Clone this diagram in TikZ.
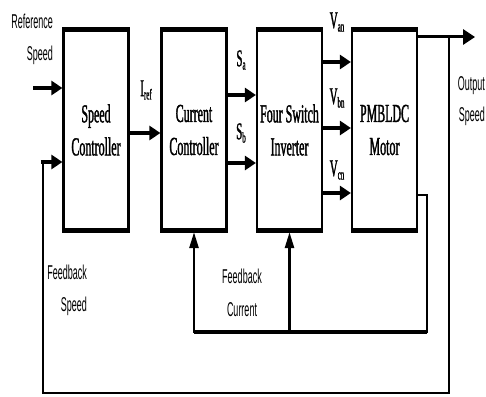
\documentclass[tikz,border=0pt]{standalone}
\usepackage{fontspec}
\setmainfont{Liberation Serif}
\newfontfamily\blkfont[FakeStretch=0.46,FakeBold=1.2]{Liberation Serif}
\newfontfamily\lblfont[FakeStretch=0.45]{Liberation Sans}
\usepackage{tikz}
\usetikzlibrary{arrows.meta, positioning, calc}
\newcommand\lowsub[1]{\raisebox{-0.3ex}{\fontsize{15}{15}\selectfont #1}}
\tikzset{
  blk/.style={draw, line width=2.2pt, minimum width=65pt, minimum height=202pt,
              align=center, inner sep=2pt, font=\blkfont\fontsize{26}{33}\selectfont},
  blkedge/.style={line width=5pt},
  bigarr/.style={line width=4.5pt, -{Triangle[length=11pt,width=14pt]}},
  outarr/.style={line width=3pt, -{Triangle[length=12pt,width=15pt]}},
  fbline/.style={line width=2.6pt},
  fbarr/.style={line width=2.6pt, -{Triangle[length=16pt,width=9pt]}},
  sig/.style={font=\blkfont\fontsize{24}{26}\selectfont, inner sep=1pt},
  capt/.style={font=\lblfont\fontsize{20}{22}\selectfont, inner sep=1pt},
}
\begin{document}
\begin{tikzpicture}[x=1pt, y=-1pt]
\useasboundingbox (0,0) rectangle (486,396);
% blocks
\node[blk] (spd) at (96,130) {Speed\\Controller};
\node[blk] (cur) at (194,130) {Current\\Controller};
\node[blk] (inv) at (289.5,130) {Four Switch\\Inverter};
\node[blk] (mot) at (384.5,130) {PMBLDC\\Motor};
\foreach \b in {spd,cur,inv,mot} {
  \draw[blkedge] ([yshift=-1.5pt]\b.north west) -- ([yshift=-1.5pt]\b.north east);
  \draw[blkedge] ([yshift=1.5pt]\b.south west) -- ([yshift=1.5pt]\b.south east);
}
% free ends
\coordinate (refin) at (33,88);
\coordinate (outend) at (475,37);
\coordinate (outtap) at (449,37);
\coordinate (fscorner) at (43,393);
\coordinate (fccorner) at (427,332);
% forward path
\draw[bigarr] (refin) -- (refin -| spd.west);
\draw[bigarr] ([yshift=-3pt]spd.east) -- ([yshift=-3pt]cur.west);
\draw[bigarr] ([yshift=35pt]cur.east) -- ([yshift=35pt]inv.west);
\draw[bigarr] ([yshift=-33pt]cur.east) -- ([yshift=-33pt]inv.west);
\draw[bigarr] ([yshift=68pt]inv.east) -- ([yshift=68pt]mot.west);
\draw[bigarr] ([yshift=2pt]inv.east) -- ([yshift=2pt]mot.west);
\draw[bigarr] ([yshift=-63pt]inv.east) -- ([yshift=-63pt]mot.west);
\draw[outarr] (outend -| mot.east) -- (outend);
% speed feedback
\draw[fbline] (outtap) |- (fscorner) -- (fscorner |- {$(spd.west)+(0,32)$});
\draw[bigarr] ($(spd.west)+(-21.5,32)$) -- ($(spd.west)+(0,32)$);
% current feedback
\draw[fbarr] ([yshift=-65pt]mot.east) -| (fccorner) -| (cur.south);
\draw[fbarr] (inv.south |- fccorner) -- (inv.south);
\draw[line width=4pt] (fccorner) -- (fccorner -| cur.south);
% labels
\node[capt, anchor=east] (lref) at (54,21) {Reference};
\node[capt, anchor=east] (lrefsp) at (54,55) {Speed};
\node[sig] (liref) at (146,90) {I\lowsub{ref}};
\node[sig] (lsa) at (241,60) {S\lowsub{a}};
\node[sig] (lsb) at (241,133) {S\lowsub{b}};
\node[sig] (lvan) at (337,22) {V\lowsub{an}};
\node[sig] (lvbn) at (337,98) {V\lowsub{bn}};
\node[sig] (lvcn) at (337,170) {V\lowsub{cn}};
\node[capt, anchor=east] (lout) at (486,86) {Output};
\node[capt, anchor=east] (loutsp) at (486,116) {Speed};
\node[capt, anchor=east] (lfbs) at (88,272) {Feedback};
\node[capt, anchor=east] (lfbssp) at (88,306) {Speed};
\node[capt] (lfbc) at (242,276) {Feedback};
\node[capt] (lfbccur) at (242,310) {Current};
\end{tikzpicture}
\end{document}
